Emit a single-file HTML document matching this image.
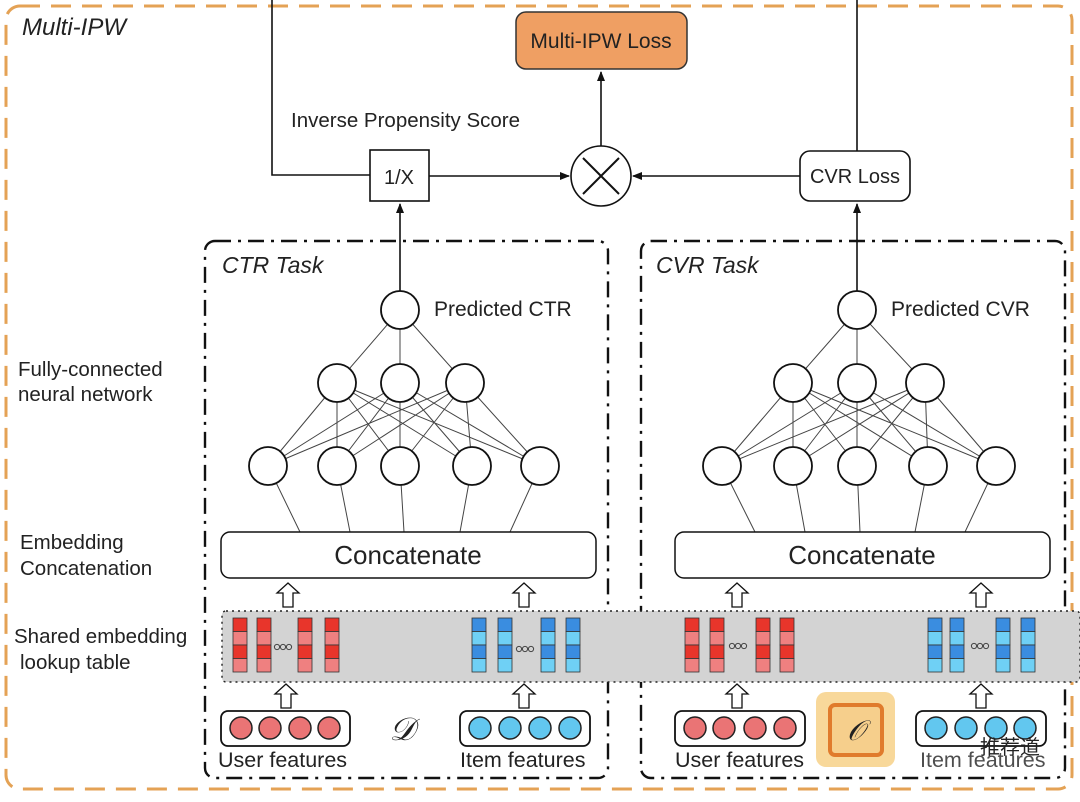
<!DOCTYPE html>
<html><head><style>
body{margin:0;background:#fff}
svg text{font-family:"Liberation Sans",sans-serif;fill:#222}
</style></head><body>
<svg width="1080" height="797" viewBox="0 0 1080 797" xmlns="http://www.w3.org/2000/svg">
<defs>
<marker id="ah" markerWidth="10" markerHeight="10" refX="9" refY="5" orient="auto" markerUnits="userSpaceOnUse"><path d="M0,1 L10,5 L0,9 z" fill="#111"/></marker>
<g id="uparr"><path d="M-5,24 L-5,10 L-11,10 L0,0 L11,10 L5,10 L5,24 z" fill="#fff" stroke="#111" stroke-width="1.3"/></g>
<g id="redcol"><rect x="0" y="0" width="14" height="13.5" fill="#e8352b" stroke="#333" stroke-width="0.8"/><rect x="0" y="13.5" width="14" height="13.5" fill="#ef8080" stroke="#333" stroke-width="0.8"/><rect x="0" y="27" width="14" height="13.5" fill="#e8352b" stroke="#333" stroke-width="0.8"/><rect x="0" y="40.5" width="14" height="13.5" fill="#ef8080" stroke="#333" stroke-width="0.8"/></g>
<g id="bluecol"><rect x="0" y="0" width="14" height="13.5" fill="#3a8de0" stroke="#333" stroke-width="0.8"/><rect x="0" y="13.5" width="14" height="13.5" fill="#6fd0f5" stroke="#333" stroke-width="0.8"/><rect x="0" y="27" width="14" height="13.5" fill="#3a8de0" stroke="#333" stroke-width="0.8"/><rect x="0" y="40.5" width="14" height="13.5" fill="#6fd0f5" stroke="#333" stroke-width="0.8"/></g>
<g id="dots"><circle cx="0" cy="0" r="2.6" fill="none" stroke="#444" stroke-width="1"/><circle cx="6" cy="0" r="2.6" fill="none" stroke="#444" stroke-width="1"/><circle cx="12" cy="0" r="2.6" fill="none" stroke="#444" stroke-width="1"/></g>
</defs>

<rect x="6" y="6" width="1066" height="783" rx="14" fill="none" stroke="#e4a255" stroke-width="3" stroke-dasharray="20,11"/>
<text x="22" y="35" font-size="24" font-style="italic">Multi-IPW</text>

<rect x="516" y="12" width="171" height="57" rx="10" fill="#ef9f63" stroke="#333" stroke-width="1.5"/>
<text x="601" y="48" font-size="21" text-anchor="middle">Multi-IPW Loss</text>
<polyline points="272,0 272,175 370,175" fill="none" stroke="#111" stroke-width="1.6"/>
<rect x="370" y="150" width="59" height="51" fill="#fff" stroke="#111" stroke-width="1.6"/>
<text x="399" y="184" font-size="20" text-anchor="middle">1/X</text>
<text x="291" y="127" font-size="20.5">Inverse Propensity Score</text>
<circle cx="601" cy="176" r="30" fill="#fff" stroke="#111" stroke-width="1.6"/>
<path d="M583,158 L619,194 M619,158 L583,194" stroke="#111" stroke-width="2"/>
<line x1="429" y1="176" x2="569" y2="176" stroke="#111" stroke-width="1.6" marker-end="url(#ah)"/>
<line x1="601" y1="146" x2="601" y2="72" stroke="#111" stroke-width="1.6" marker-end="url(#ah)"/>
<line x1="800" y1="176" x2="633" y2="176" stroke="#111" stroke-width="1.6" marker-end="url(#ah)"/>
<rect x="800" y="151" width="110" height="50" rx="10" fill="#fff" stroke="#111" stroke-width="1.6"/>
<text x="855" y="183" font-size="20" text-anchor="middle">CVR Loss</text>
<line x1="857" y1="0" x2="857" y2="151" stroke="#111" stroke-width="1.6"/>
<line x1="400" y1="291" x2="400" y2="204" stroke="#111" stroke-width="1.6" marker-end="url(#ah)"/>
<line x1="857" y1="291" x2="857" y2="204" stroke="#111" stroke-width="1.6" marker-end="url(#ah)"/>

<rect x="205" y="241" width="403" height="537" rx="10" fill="none" stroke="#111" stroke-width="2.4" stroke-dasharray="16,7,3,7"/>
<rect x="641" y="241" width="424" height="537" rx="10" fill="none" stroke="#111" stroke-width="2.4" stroke-dasharray="16,7,3,7"/>
<text x="222" y="273" font-size="23" font-style="italic">CTR Task</text>
<text x="656" y="273" font-size="23" font-style="italic">CVR Task</text>

<text x="18" y="376" font-size="20.5">Fully-connected</text>
<text x="18" y="401" font-size="20.5">neural network</text>
<text x="20" y="549" font-size="20.5">Embedding</text>
<text x="20" y="575" font-size="20.5">Concatenation</text>
<text x="14" y="643" font-size="20.5">Shared embedding</text>
<text x="20" y="669" font-size="20.5">lookup table</text>

<g stroke="#444" stroke-width="1">
<path d="M400,310 L337,383 M400,310 L400,383 M400,310 L465,383"/>
<path d="M337,383 L268,466 M337,383 L337,466 M337,383 L400,466 M337,383 L472,466 M337,383 L540,466
M400,383 L268,466 M400,383 L337,466 M400,383 L400,466 M400,383 L472,466 M400,383 L540,466
M465,383 L268,466 M465,383 L337,466 M465,383 L400,466 M465,383 L472,466 M465,383 L540,466"/>
<path d="M268,466 L300,532 M337,466 L350,532 M400,466 L404,532 M472,466 L460,532 M540,466 L510,532"/>
<path d="M857,310 L793,383 M857,310 L857,383 M857,310 L925,383"/>
<path d="M793,383 L722,466 M793,383 L793,466 M793,383 L857,466 M793,383 L928,466 M793,383 L996,466
M857,383 L722,466 M857,383 L793,466 M857,383 L857,466 M857,383 L928,466 M857,383 L996,466
M925,383 L722,466 M925,383 L793,466 M925,383 L857,466 M925,383 L928,466 M925,383 L996,466"/>
<path d="M722,466 L755,532 M793,466 L805,532 M857,466 L860,532 M928,466 L915,532 M996,466 L965,532"/>
</g>
<g fill="#fff" stroke="#111" stroke-width="1.8">
<circle cx="400" cy="310" r="19"/><circle cx="337" cy="383" r="19"/><circle cx="400" cy="383" r="19"/><circle cx="465" cy="383" r="19"/>
<circle cx="268" cy="466" r="19"/><circle cx="337" cy="466" r="19"/><circle cx="400" cy="466" r="19"/><circle cx="472" cy="466" r="19"/><circle cx="540" cy="466" r="19"/>
<circle cx="857" cy="310" r="19"/><circle cx="793" cy="383" r="19"/><circle cx="857" cy="383" r="19"/><circle cx="925" cy="383" r="19"/>
<circle cx="722" cy="466" r="19"/><circle cx="793" cy="466" r="19"/><circle cx="857" cy="466" r="19"/><circle cx="928" cy="466" r="19"/><circle cx="996" cy="466" r="19"/>
</g>
<text x="434" y="316" font-size="21">Predicted CTR</text>
<text x="891" y="316" font-size="21">Predicted CVR</text>

<rect x="221" y="532" width="375" height="46" rx="9" fill="#fff" stroke="#111" stroke-width="1.5"/>
<text x="408" y="564" font-size="26" text-anchor="middle">Concatenate</text>
<rect x="675" y="532" width="375" height="46" rx="9" fill="#fff" stroke="#111" stroke-width="1.5"/>
<text x="862" y="564" font-size="26" text-anchor="middle">Concatenate</text>

<rect x="222" y="611" width="858" height="71" rx="4" fill="#d3d3d3" stroke="#222" stroke-width="1.4" stroke-dasharray="2,4"/>
<use href="#redcol" x="233" y="618"/><use href="#redcol" x="257" y="618"/><use href="#redcol" x="298" y="618"/><use href="#redcol" x="325" y="618"/>
<use href="#dots" x="277" y="647"/>
<use href="#bluecol" x="472" y="618"/><use href="#bluecol" x="498" y="618"/><use href="#bluecol" x="541" y="618"/><use href="#bluecol" x="566" y="618"/>
<use href="#dots" x="519" y="649"/>
<use href="#redcol" x="685" y="618"/><use href="#redcol" x="710" y="618"/><use href="#redcol" x="756" y="618"/><use href="#redcol" x="780" y="618"/>
<use href="#dots" x="732" y="646"/>
<use href="#bluecol" x="928" y="618"/><use href="#bluecol" x="950" y="618"/><use href="#bluecol" x="996" y="618"/><use href="#bluecol" x="1021" y="618"/>
<use href="#dots" x="974" y="646"/>

<use href="#uparr" x="288" y="583"/><use href="#uparr" x="524" y="583"/>
<use href="#uparr" x="737" y="583"/><use href="#uparr" x="981" y="583"/>
<use href="#uparr" x="286" y="684"/><use href="#uparr" x="524" y="684"/>
<use href="#uparr" x="737" y="684"/><use href="#uparr" x="981" y="684"/>

<rect x="221" y="711" width="129" height="35" rx="7" fill="#fff" stroke="#111" stroke-width="1.8"/>
<g fill="#ea7475" stroke="#222" stroke-width="1.5"><circle cx="241" cy="728" r="11"/><circle cx="270" cy="728" r="11"/><circle cx="300" cy="728" r="11"/><circle cx="329" cy="728" r="11"/></g>
<rect x="460" y="711" width="130" height="35" rx="7" fill="#fff" stroke="#111" stroke-width="1.8"/>
<g fill="#62c7ef" stroke="#222" stroke-width="1.5"><circle cx="480" cy="728" r="11"/><circle cx="510" cy="728" r="11"/><circle cx="540" cy="728" r="11"/><circle cx="570" cy="728" r="11"/></g>
<text x="218" y="767" font-size="21.5">User features</text>
<text x="460" y="767" font-size="21.5">Item features</text>
<text x="402" y="740" font-size="32" font-style="italic" font-family="Liberation Serif" text-anchor="middle">𝒟</text>

<rect x="675" y="711" width="130" height="35" rx="7" fill="#fff" stroke="#111" stroke-width="1.8"/>
<g fill="#ea7475" stroke="#222" stroke-width="1.5"><circle cx="695" cy="728" r="11"/><circle cx="724" cy="728" r="11"/><circle cx="755" cy="728" r="11"/><circle cx="785" cy="728" r="11"/></g>
<rect x="916" y="711" width="130" height="35" rx="7" fill="#fff" stroke="#111" stroke-width="1.8"/>
<g fill="#62c7ef" stroke="#222" stroke-width="1.5"><circle cx="936" cy="728" r="11"/><circle cx="966" cy="728" r="11"/><circle cx="996" cy="728" r="11"/><circle cx="1025" cy="728" r="11"/></g>
<text x="675" y="767" font-size="21.5">User features</text>
<text x="920" y="767" font-size="21.5" opacity="0.8">Item features</text>
<rect x="816" y="692" width="79" height="75" rx="10" fill="#f8d89a"/>
<rect x="830" y="705" width="52" height="50" rx="5" fill="#f6cf8c" stroke="#e07b2c" stroke-width="4"/>
<text x="856" y="740" font-size="28" font-style="italic" font-family="Liberation Serif" text-anchor="middle" fill="#6a5a1a">𝒪</text>
<text x="1040" y="754" font-size="20" text-anchor="end" fill="#ccc" font-family="'Liberation Sans','Noto Sans CJK SC',sans-serif">推荐道</text>
</svg>
</body></html>
